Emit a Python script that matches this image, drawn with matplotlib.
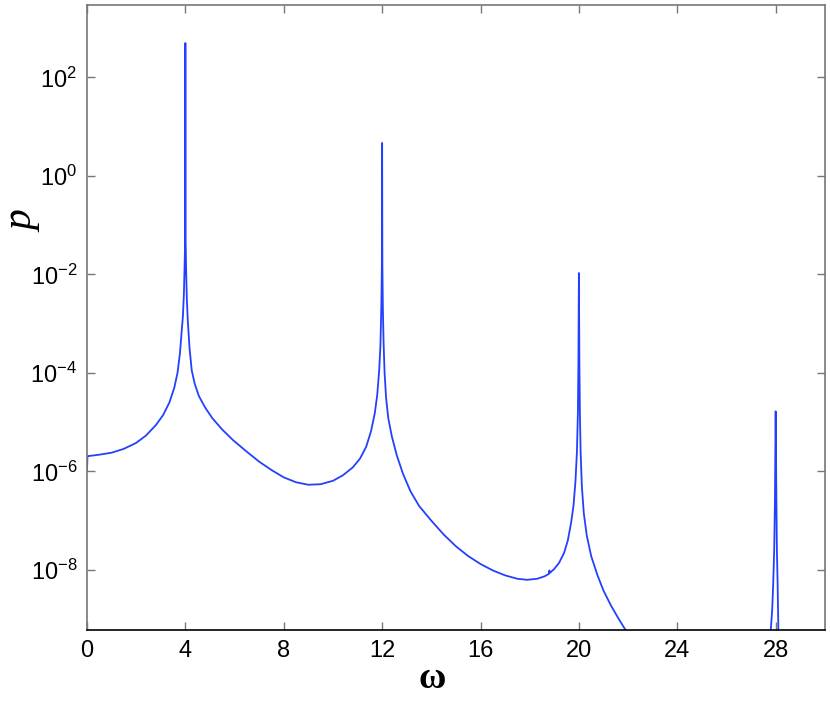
import matplotlib
matplotlib.use('Agg')
import matplotlib.pyplot as plt

# values (omega, p), denser near the resonances
omega = [0.0, 0.02, 0.5, 1.0, 1.5, 2.0, 2.4, 2.8, 3.1, 3.35, 3.55, 3.68,
         3.78, 3.85, 3.90, 3.94, 3.97, 3.99,
         4.0,
         4.01, 4.03, 4.06, 4.10, 4.17, 4.26, 4.38, 4.55, 4.8, 5.1, 5.5,
         5.95, 6.5, 7.0, 7.5, 8.0, 8.5, 9.0, 9.5, 10.0, 10.4, 10.8, 11.1,
         11.35, 11.55, 11.7, 11.8, 11.88, 11.93, 11.97, 11.99,
         12.0,
         12.01, 12.03, 12.06, 12.10, 12.16, 12.25, 12.4, 12.6, 12.85,
         13.15, 13.5, 14.0, 14.5, 15.0, 15.5, 16.0, 16.5, 17.0, 17.5,
         17.9, 18.3, 18.6, 18.78, 18.80, 18.82, 19.0, 19.2, 19.4, 19.55,
         19.68, 19.78, 19.86, 19.92, 19.96, 19.98,
         20.0,
         20.02, 20.04, 20.07, 20.12, 20.2, 20.32, 20.5, 20.75, 21.0, 21.3,
         21.6, 21.91, 22.3, 23.0, 25.0, 27.5, 27.7, 27.8, 27.86, 27.90,
         27.94, 27.97,
         28.0,
         28.03, 28.05, 28.08, 28.11, 28.2, 28.5, 30.0]
p = [1.05e-6, 2.04e-6, 2.19e-6, 2.40e-6, 2.88e-6, 3.80e-6, 5.37e-6, 8.71e-6,
     1.41e-5, 2.51e-5, 5.01e-5, 1.00e-4, 2.51e-4, 7.08e-4, 1.41e-3, 3.98e-3,
     1.58e-2, 5.01e-2,
     501.0,
     5.01e-2, 1.26e-2, 3.16e-3, 1.12e-3, 3.16e-4, 1.12e-4, 6.03e-5, 3.39e-5,
     2.00e-5, 1.20e-5, 7.08e-6, 4.27e-6, 2.51e-6, 1.58e-6, 1.07e-6, 7.59e-7,
     6.03e-7, 5.37e-7, 5.50e-7, 6.46e-7, 8.32e-7, 1.20e-6, 1.82e-6, 3.16e-6,
     6.61e-6, 1.51e-5, 3.55e-5, 1.12e-4, 3.55e-4, 2.51e-3, 1.58e-2,
     4.68,
     1.58e-2, 2.00e-3, 3.98e-4, 1.00e-4, 3.16e-5, 1.20e-5, 5.01e-6, 2.09e-6,
     8.91e-7, 3.98e-7, 2.00e-7, 1.00e-7, 5.25e-8, 3.02e-8, 1.91e-8, 1.32e-8,
     9.77e-9, 7.76e-9, 6.61e-9, 6.31e-9, 6.61e-9, 7.41e-9, 8.32e-9, 9.77e-9,
     8.71e-9, 1.05e-8, 1.41e-8, 2.24e-8, 3.98e-8, 8.91e-8, 2.00e-7, 6.31e-7,
     2.51e-6, 1.58e-5, 1.58e-4,
     1.07e-2,
     1.58e-4, 1.58e-5, 2.51e-6, 5.01e-7, 1.41e-7, 5.01e-8, 1.91e-8, 7.94e-9,
     3.80e-9, 1.91e-9, 1.05e-9, 5.89e-10, 2.82e-10, 1.0e-10, 1.58e-11,
     6.31e-11, 1.58e-10, 5.89e-10, 1.58e-9, 5.25e-9, 2.51e-8, 2.51e-7,
     1.66e-5,
     2.51e-7, 2.51e-8, 5.25e-9, 5.89e-10, 1.58e-10, 3.98e-11, 1.0e-11]

x_ticks = [0, 4, 8, 12, 16, 20, 24, 28]
y_ticks = [1e-8, 1e-6, 1e-4, 1e-2, 1e0, 1e2]
y_tick_labels = [r'$\mathregular{10^{-8}}$', r'$\mathregular{10^{-6}}$',
                 r'$\mathregular{10^{-4}}$', r'$\mathregular{10^{-2}}$',
                 r'$\mathregular{10^{0}}$', r'$\mathregular{10^{2}}$']

plt.rcParams['font.family'] = ['Liberation Sans', 'DejaVu Sans']

fig = plt.figure(figsize=(8.3, 7.03), dpi=100)
ax = fig.add_axes([0.1048, 0.1038, 0.889, 0.889])

ax.plot(omega, p, color='#2440ff', linewidth=1.3)

ax.set_yscale('log')
ax.set_xlim(0, 30)
ax.set_ylim(10**-9.22, 10**3.47)

ax.set_xticks(x_ticks)
ax.set_xticklabels([str(t) for t in x_ticks])
ax.set_yticks(y_ticks)
ax.set_yticklabels(y_tick_labels)
ax.minorticks_off()

ax.tick_params(axis='both', which='major', direction='in', length=6, width=1,
               color='#777777', labelsize=17, top=True, right=True)
ax.tick_params(axis='x', pad=7)
ax.tick_params(axis='y', pad=7)

for side in ['left', 'top', 'right']:
    ax.spines[side].set_color('#777777')
ax.spines['bottom'].set_color('black')
for s in ax.spines.values():
    s.set_linewidth(1.2)

ax.set_xlabel('ω', fontsize=27, family='Liberation Serif', weight='bold')
ax.xaxis.label.set_va('center')
ax.xaxis.set_label_coords(0.468, -0.078)
ax.set_ylabel('p', fontsize=30, family='Liberation Serif', style='italic')
ax.yaxis.label.set_va('center')
ax.yaxis.set_label_coords(-0.087, 0.654)

fig.savefig('out.png', dpi=100)
